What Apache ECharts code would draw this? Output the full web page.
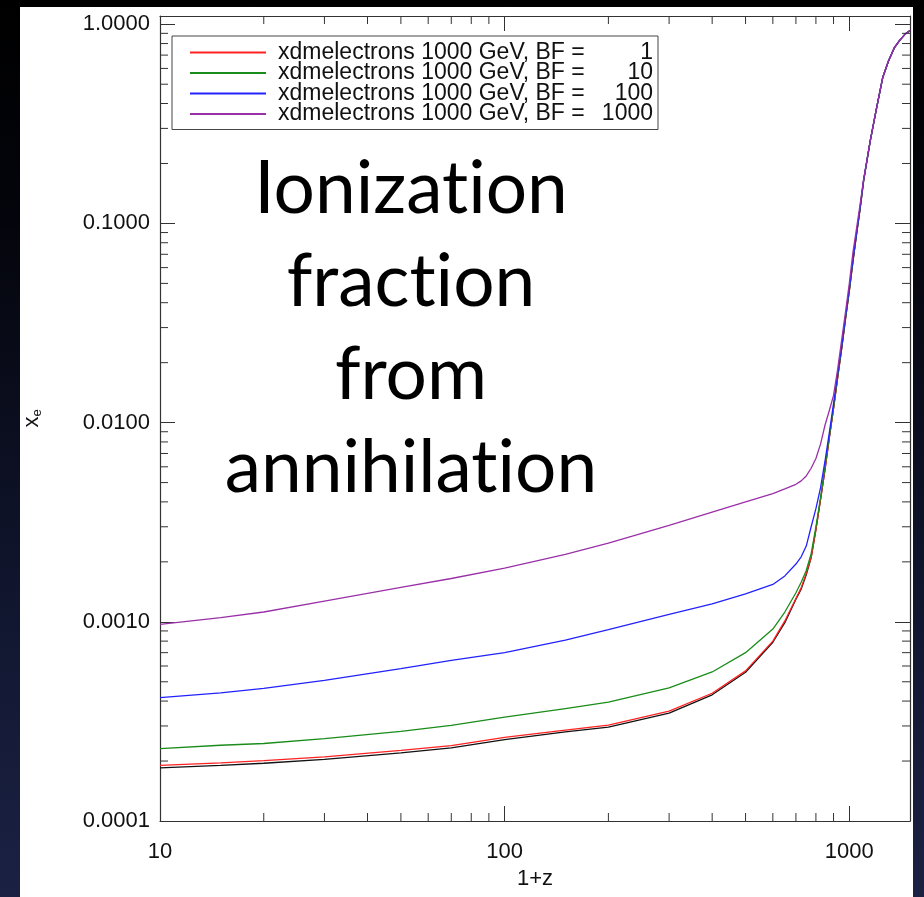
<!DOCTYPE html>
<html><head><meta charset="utf-8">
<script src="https://cdn.jsdelivr.net/npm/echarts@6/dist/echarts.min.js"></script>
<style>
html,body{margin:0;padding:0;width:924px;height:897px;overflow:hidden;}
body{background:linear-gradient(to bottom,#000 0%,#04050c 25%,#121731 70%,#1b2143 100%);}
#paper{position:absolute;left:20px;top:7px;width:893px;height:890px;background:#fff;}
#chart{position:absolute;left:0;top:0;width:924px;height:897px;}
</style></head><body>
<div id="paper"></div><div id="chart"></div>
<script>
// 1+z sample points
const redshift = [10, 15, 20, 30, 50, 70, 100, 150, 200, 300, 400, 500, 600, 650, 700, 725, 750, 775, 800, 825, 850, 875, 900, 925, 950, 975, 1000, 1025, 1050, 1075, 1100, 1150, 1200, 1250, 1300, 1350, 1400, 1450, 1500];
// x_e curves
const xeStandard = [0.000185, 0.00019, 0.000195, 0.000204, 0.00022, 0.000233, 0.000256, 0.00028, 0.000296, 0.000348, 0.00043, 0.000558, 0.00079, 0.00099, 0.0013, 0.00146, 0.00172, 0.0021, 0.0029, 0.0041, 0.0058, 0.0084, 0.0118, 0.0168, 0.0235, 0.0333, 0.046, 0.065, 0.089, 0.119, 0.163, 0.26, 0.38, 0.54, 0.656, 0.76, 0.83, 0.89, 0.93];
const xeBF1 = [0.00019, 0.000196, 0.000201, 0.00021, 0.000226, 0.000239, 0.000263, 0.000286, 0.000303, 0.000356, 0.000438, 0.000567, 0.0008, 0.00101, 0.00131, 0.00148, 0.00175, 0.0021, 0.0029, 0.0041, 0.0058, 0.0084, 0.0118, 0.0168, 0.0235, 0.0333, 0.046, 0.065, 0.089, 0.119, 0.163, 0.26, 0.38, 0.54, 0.656, 0.76, 0.83, 0.89, 0.93];
const xeBF10 = [0.000231, 0.00024, 0.000245, 0.000259, 0.000282, 0.000302, 0.000332, 0.000367, 0.000395, 0.000466, 0.00056, 0.0007, 0.00092, 0.00112, 0.0014, 0.00158, 0.00181, 0.0022, 0.003, 0.0042, 0.006, 0.0085, 0.0119, 0.017, 0.0236, 0.0335, 0.046, 0.065, 0.089, 0.119, 0.163, 0.26, 0.38, 0.54, 0.656, 0.76, 0.83, 0.89, 0.93];
const xeBF100 = [0.000416, 0.00044, 0.000463, 0.000508, 0.000582, 0.00064, 0.0007, 0.00081, 0.000914, 0.00109, 0.00123, 0.00138, 0.00154, 0.0017, 0.00195, 0.00212, 0.0024, 0.003, 0.0037, 0.0047, 0.0064, 0.0089, 0.0125, 0.0175, 0.024, 0.034, 0.047, 0.066, 0.09, 0.12, 0.165, 0.26, 0.38, 0.54, 0.656, 0.76, 0.83, 0.89, 0.93];
const xeBF1000 = [0.00097, 0.00105, 0.00112, 0.00127, 0.00149, 0.00165, 0.00186, 0.00218, 0.00248, 0.00305, 0.00355, 0.004, 0.0044, 0.00465, 0.0049, 0.0051, 0.0054, 0.0059, 0.0066, 0.0078, 0.0097, 0.0115, 0.0137, 0.0185, 0.026, 0.036, 0.05, 0.072, 0.095, 0.125, 0.166, 0.26, 0.38, 0.54, 0.656, 0.76, 0.83, 0.89, 0.93];

const seriesNames = [
  'xdmelectrons 1000 GeV, BF =    1',
  'xdmelectrons 1000 GeV, BF =   10',
  'xdmelectrons 1000 GeV, BF =  100',
  'xdmelectrons 1000 GeV, BF = 1000'
];
const xMinorTicks = [20, 30, 40, 50, 60, 70, 80, 90, 200, 300, 400, 500, 600, 700, 800, 900];
const yMinorTicks = [0.0002,0.0003,0.0004,0.0005,0.0006,0.0007,0.0008,0.0009,
  0.002,0.003,0.004,0.005,0.006,0.007,0.008,0.009,
  0.02,0.03,0.04,0.05,0.06,0.07,0.08,0.09,
  0.2,0.3,0.4,0.5,0.6,0.7,0.8,0.9];
// zero-width non-joiner keeps "ti" from becoming a ligature
const bigText = ['Ionizat\u200Cion', 'fract\u200Cion', 'from', 'annihilat\u200Cion'];

const X_MIN = 10, X_MAX = 1500, Y_MIN = 0.0001, Y_MAX = 1.1;
const FONT = 'Liberation Sans';
const AX = '#333';

function isDecade(v) { const l = Math.log10(v); return Math.abs(l - Math.round(l)) < 1e-6; }
function mk(arr) { return redshift.map((x, i) => [x, arr[i]]); }

const chart = echarts.init(document.getElementById('chart'), null, {renderer: 'canvas'});

const axisCommon = {
  type: 'log', logBase: 10,
  splitLine: {show: false},
  axisLine: {show: true, onZero: false, lineStyle: {color: AX, width: 1.2}},
  axisTick: {show: true, inside: true, length: 15, lineStyle: {color: AX, width: 1}},
  minorTick: {show: false}
};

function lineSeries(name, arr, color, z) {
  return {
    name: name, type: 'line', data: mk(arr), xAxisIndex: 0, yAxisIndex: 0,
    showSymbol: false, symbol: 'none', smooth: false,
    color: color, lineStyle: {color: color, width: 1.3}, z: z, silent: true
  };
}

const option = {
  animation: false,
  grid: {left: 160, right: 14, top: 16, bottom: 76, show: false},
  xAxis: [
    Object.assign({}, axisCommon, {
      min: X_MIN, max: X_MAX, position: 'bottom',
      axisLabel: {margin: 20, color: '#111', fontSize: 22, fontFamily: FONT,
        formatter: v => isDecade(v) ? String(Math.round(v)) : ''},
      name: '1+z', nameLocation: 'middle', nameGap: 47,
      nameTextStyle: {color: '#111', fontSize: 22, fontFamily: FONT}
    }),
    Object.assign({}, axisCommon, {
      min: X_MIN, max: X_MAX, position: 'top', axisLabel: {show: false}
    })
  ],
  yAxis: [
    Object.assign({}, axisCommon, {
      min: Y_MIN, max: Y_MAX, position: 'left',
      axisLabel: {margin: 10, color: '#111', fontSize: 22, fontFamily: FONT,
        formatter: v => isDecade(v) ? v.toFixed(4) : ''},
      name: '{x|x}{e|e}', nameLocation: 'middle', nameGap: 116, nameRotate: 90,
      nameTextStyle: {rich: {
        x: {fontSize: 22, fontFamily: FONT, color: '#111', lineHeight: 24, verticalAlign: 'middle'},
        e: {fontSize: 13, fontFamily: FONT, color: '#111', lineHeight: 12, verticalAlign: 'bottom'}
      }}
    }),
    Object.assign({}, axisCommon, {
      min: Y_MIN, max: Y_MAX, position: 'right', axisLabel: {show: false}
    })
  ],
  legend: {
    data: seriesNames, orient: 'vertical', left: 172, top: 36,
    padding: [5, 5, 4, 18], itemGap: -2.5, itemWidth: 76, itemHeight: 2, icon: 'rect',
    borderColor: '#444', borderWidth: 1, backgroundColor: '#fff',
    selectedMode: false,
    formatter: name => {
      const m = name.match(/^(.*=)\s*(\d+)$/);
      return '{g| }{a|' + m[1] + '}{b|' + m[2] + '}';
    },
    textStyle: {fontFamily: FONT, fontSize: 23, color: '#111', lineHeight: 19,
      rich: {
        g: {width: 7, fontSize: 23, fontFamily: FONT, lineHeight: 19},
        a: {width: 322, fontSize: 23, fontFamily: FONT, color: '#111', lineHeight: 19},
        b: {width: 53, align: 'right', fontSize: 23, fontFamily: FONT, color: '#111', lineHeight: 19}
      }}
  },
  graphic: bigText.map((t, i) => ({
    type: 'text', x: 411, y: 189 + i * 93, z: 100,
    style: {text: t, fill: '#000', font: '73px Lato', fontFamily: 'Lato', fontSize: 73,
      align: 'center', verticalAlign: 'middle', textAlign: 'center', textVerticalAlign: 'middle'}
  })),
  series: [
    lineSeries('standard', xeStandard, '#111111', 2),
    lineSeries(seriesNames[0], xeBF1, '#ff2222', 3),
    lineSeries(seriesNames[1], xeBF10, '#1a8c1a', 4),
    lineSeries(seriesNames[2], xeBF100, '#2222ff', 5),
    lineSeries(seriesNames[3], xeBF1000, '#9a30a8', 6),
    {
      type: 'custom', silent: true, xAxisIndex: 0, yAxisIndex: 0, clip: false, z: 10,
      data: xMinorTicks.map(v => [v, Y_MIN]),
      renderItem: (params, api) => {
        const v = api.value(0);
        const b = api.coord([v, Y_MIN]), t = api.coord([v, Y_MAX]);
        const st = {stroke: AX, lineWidth: 1};
        return {type: 'group', children: [
          {type: 'line', shape: {x1: b[0], y1: b[1], x2: b[0], y2: b[1] - 8}, style: st},
          {type: 'line', shape: {x1: t[0], y1: t[1], x2: t[0], y2: t[1] + 8}, style: st}
        ]};
      }
    },
    {
      type: 'custom', silent: true, xAxisIndex: 0, yAxisIndex: 0, clip: false, z: 10,
      data: yMinorTicks.map(v => [X_MIN, v]),
      renderItem: (params, api) => {
        const v = api.value(1);
        const l = api.coord([X_MIN, v]), r = api.coord([X_MAX, v]);
        const st = {stroke: AX, lineWidth: 1};
        return {type: 'group', children: [
          {type: 'line', shape: {x1: l[0], y1: l[1], x2: l[0] + 8, y2: l[1]}, style: st},
          {type: 'line', shape: {x1: r[0], y1: r[1], x2: r[0] - 8, y2: r[1]}, style: st}
        ]};
      }
    }
  ]
};
chart.setOption(option);
</script>
</body></html>
